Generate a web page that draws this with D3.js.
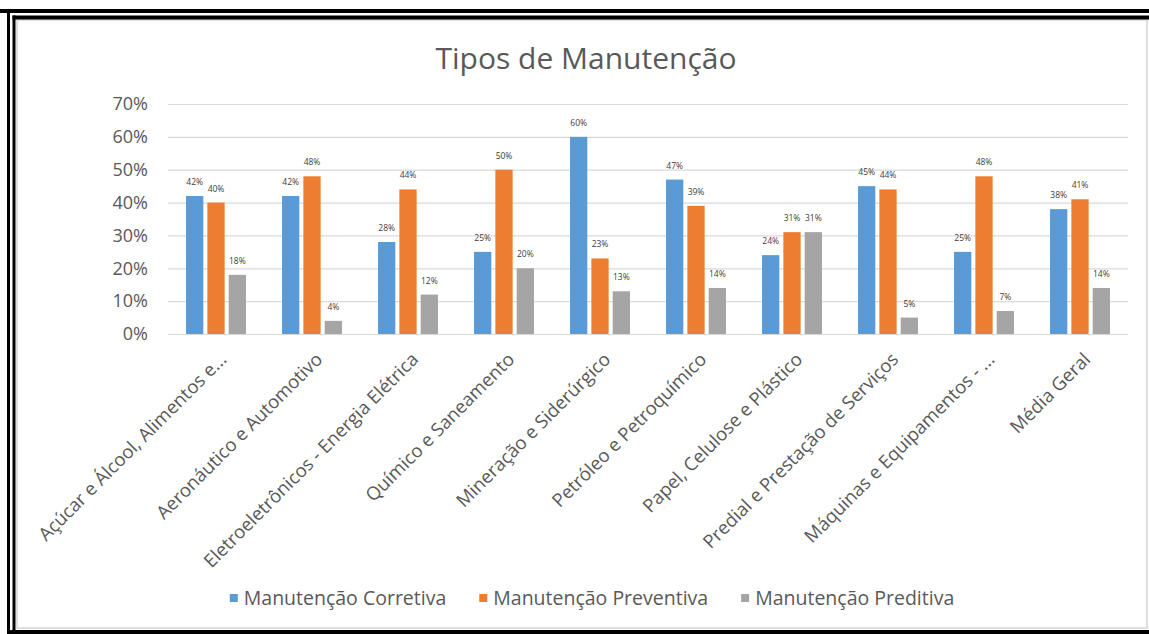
<!DOCTYPE html>
<html>
<head>
<meta charset="utf-8">
<script src="https://cdn.jsdelivr.net/npm/d3@7"></script>
<style>
  body { margin: 0; background: #fff; }
  svg text { font-family: "Open Sans", sans-serif; }
</style>
</head>
<body>
<svg id="chart" width="1149" height="634"></svg>
<script>
// categories and series
const categories = [
  "Açúcar e Álcool, Alimentos e...",
  "Aeronáutico e Automotivo",
  "Eletroeletrônicos - Energia Elétrica",
  "Químico e Saneamento",
  "Mineração e Siderúrgico",
  "Petróleo e Petroquímico",
  "Papel, Celulose e Plástico",
  "Predial e Prestação de Serviços",
  "Máquinas e Equipamentos - ...",
  "Média Geral"
]
const seriesNames = ["Manutenção Corretiva", "Manutenção Preventiva", "Manutenção Preditiva"]
const corretiva  = [42, 42, 28, 25, 60, 47, 24, 45, 25, 38]
const preventiva = [40, 48, 44, 50, 23, 39, 31, 44, 48, 41]
const preditiva  = [18, 4, 12, 20, 13, 14, 31, 5, 7, 14]
const yTicks = [0, 10, 20, 30, 40, 50, 60, 70]
const colors = ["#5B9BD5", "#ED7D31", "#A5A5A5"]

const values = [corretiva, preventiva, preditiva]

let svg = d3.select("#chart")

// frame (double black border, as in the scan)
let frame = svg.append("g").attr("class", "frame")
frame.append("rect").attr("x", 0).attr("y", 0).attr("width", 1149).attr("height", 634).attr("fill", "#fff")
frame.append("rect").attr("x", 17).attr("y", 20).attr("width", 1130).attr("height", 608)
  .attr("fill", "none").attr("stroke", "#d4d4d4").attr("stroke-width", 1.5)
frame.append("rect").attr("x", 0).attr("y", 9).attr("width", 1149).attr("height", 4).attr("fill", "#000")
frame.append("rect").attr("x", 12.5).attr("y", 15.5).attr("width", 1149).attr("height", 4).attr("fill", "#000")
frame.append("rect").attr("x", 7).attr("y", 9).attr("width", 3).attr("height", 625).attr("fill", "#000")
frame.append("rect").attr("x", 12.5).attr("y", 15.5).attr("width", 3).attr("height", 620).attr("fill", "#000")
frame.append("rect").attr("x", 7).attr("y", 630).attr("width", 1142).attr("height", 4).attr("fill", "#000")

// scales
let x0 = d3.scaleBand().domain(categories).range([168, 1128])
let x1 = d3.scaleBand().domain(seriesNames).range([-32, 32]).paddingInner(0.19).paddingOuter(0.095)
let y = d3.scaleLinear().domain([0, 70]).range([334, 104])

// title
svg.append("text")
  .attr("x", 586).attr("y", 58)
  .attr("dy", "0.35em")
  .attr("text-anchor", "middle")
  .attr("font-size", 30)
  .attr("fill", "#595959")
  .text("Tipos de Manutenção")

// gridlines + y labels
let yaxis = d3.axisLeft(y).tickValues(yTicks).tickSize(-960).tickFormat(d => d + "%")
let gy = svg.append("g")
  .attr("class", "axis")
  .attr("transform", "translate(168,0)")
  .call(yaxis)
gy.select(".domain").remove()
gy.selectAll(".tick line").attr("stroke", "#d9d9d9").attr("stroke-width", 1.2)
gy.selectAll(".tick text")
  .attr("x", -20)
  .attr("font-size", 18)
  .attr("fill", "#595959")

// bars
let groups = svg.selectAll("g.cat")
  .data(categories)
  .enter()
    .append("g")
      .attr("class", "cat")
      .attr("transform", d => "translate(" + (x0(d) + x0.bandwidth() / 2) + ",0)")

groups.each(function(cat, i){
  let g = d3.select(this)
  seriesNames.forEach((s, k) => {
    let v = values[k][i]
    g.append("rect")
      .attr("x", x1(s))
      .attr("y", y(v))
      .attr("width", x1.bandwidth())
      .attr("height", y(0) - y(v))
      .attr("fill", colors[k])
    g.append("text")
      .attr("x", x1(s) + x1.bandwidth() / 2)
      .attr("y", y(v) - 11)
      .attr("text-anchor", "middle")
      .attr("font-size", 8.5)
      .attr("fill", "#404040")
      .text(v + "%")
  })
})

// category labels (rotated)
svg.selectAll("text.catlabel")
  .data(categories)
  .enter()
    .append("text")
      .attr("class", "catlabel")
      .attr("transform", d => "translate(" + (x0(d) + x0.bandwidth() / 2 + 7) + ",356) rotate(-45)")
      .attr("dy", "0.35em")
      .attr("text-anchor", "end")
      .attr("font-size", 18.5)
      .attr("fill", "#595959")
      .text(d => d)

// legend
let legend = svg.append("g").attr("class", "legend")
let items = legend.selectAll("g.item")
  .data(seriesNames)
  .enter()
    .append("g")
      .attr("class", "item")
items.append("rect")
  .attr("width", 8).attr("height", 8)
  .attr("y", -4)
  .attr("fill", (d, k) => colors[k])
items.append("text")
  .attr("x", 14)
  .attr("dy", "0.35em")
  .attr("font-size", 19.5)
  .attr("fill", "#595959")
  .text(d => d)

let widths = []
items.each(function(){ widths.push(this.getBBox().width) })
let gap = 33
let total = d3.sum(widths) + gap * (widths.length - 1)
let lx = 592 - total / 2
items.attr("transform", (d, k) => {
  let t = "translate(" + (lx + d3.sum(widths.slice(0, k)) + gap * k) + ",598)"
  return t
})
</script>
</body>
</html>
